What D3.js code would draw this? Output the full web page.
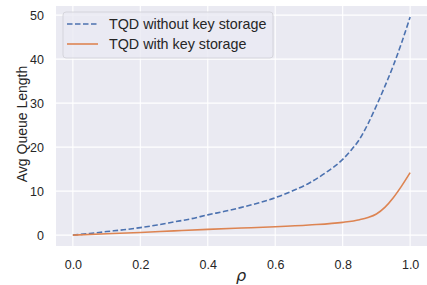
<!DOCTYPE html>
<html>
<head>
<meta charset="utf-8">
<script src="https://cdn.jsdelivr.net/npm/d3@7"></script>
<style>
	body { margin: 0; background: #fff; }
	svg text { font-family: "Liberation Sans", Arial, sans-serif; fill: #262626; }
</style>
</head>
<body>
<div id="chart"></div>
<script>
let WIDTH = 427;
let HEIGHT = 285;
let margin = {top: 6, right: 0, bottom: 39, left: 56};

let rho = [0, 0.05, 0.1, 0.15, 0.2, 0.25, 0.3, 0.35, 0.4, 0.45, 0.5,
	0.55, 0.6, 0.65, 0.7, 0.75, 0.8, 0.825, 0.85, 0.875, 0.9, 0.925, 0.95, 0.975, 1.0];
let withoutKey = [0, 0.35, 0.8, 1.2, 1.7, 2.3, 3.0, 3.7, 4.6, 5.4, 6.3,
	7.3, 8.5, 10.0, 11.8, 14.2, 17.2, 19.3, 21.8, 25.3, 29.4, 33.8, 38.5, 43.8, 49.6];

let rhoKey = [0, 0.1, 0.2, 0.3, 0.4, 0.5, 0.6, 0.7, 0.8, 0.85, 0.875,
	0.9, 0.925, 0.95, 0.975, 1.0];
let withKey = [0, 0.3, 0.6, 0.95, 1.3, 1.6, 1.9, 2.3, 2.9, 3.5, 4.0,
	4.8, 6.3, 8.5, 11.2, 14.2];

let xTicks = [0, 0.2, 0.4, 0.6, 0.8, 1.0];
let yTicks = [0, 10, 20, 30, 40, 50];
let seriesNames = ['TQD without key storage', 'TQD with key storage'];

let svg = d3.select('#chart').append('svg')
	.attr('width', WIDTH)
	.attr('height', HEIGHT);

let x = d3.scaleLinear()
	.domain([-0.05, 1.05])
	.range([margin.left, WIDTH - margin.right]);

let y = d3.scaleLinear()
	.domain([-2.48, 52.08])
	.range([HEIGHT - margin.bottom, margin.top]);

svg.append('rect')
	.attr('x', margin.left)
	.attr('y', margin.top)
	.attr('width', WIDTH - margin.left - margin.right)
	.attr('height', HEIGHT - margin.top - margin.bottom)
	.attr('fill', '#eaeaf2');

let grid = svg.append('g');
grid.selectAll('.gx').data(xTicks).enter().append('line')
	.attr('x1', d => x(d)).attr('x2', d => x(d))
	.attr('y1', margin.top).attr('y2', HEIGHT - margin.bottom)
	.attr('stroke', '#fff').attr('stroke-width', 1.1);
grid.selectAll('.gy').data(yTicks).enter().append('line')
	.attr('y1', d => y(d)).attr('y2', d => y(d))
	.attr('x1', margin.left).attr('x2', WIDTH - margin.right)
	.attr('stroke', '#fff').attr('stroke-width', 1.1);

let xAxis = svg.append('g')
	.attr('transform', `translate(0,${HEIGHT - margin.bottom})`)
	.call(d3.axisBottom(x).tickValues(xTicks).tickFormat(d3.format('.1f')).tickSize(0).tickPadding(14));
let yAxis = svg.append('g')
	.attr('transform', `translate(${margin.left},0)`)
	.call(d3.axisLeft(y).tickValues(yTicks).tickSize(0).tickPadding(12));
[xAxis, yAxis].forEach(a => {
	a.select('.domain').remove();
	a.selectAll('text').attr('font-size', 12.5).attr('fill', '#262626')
		.style('font-family', '"Liberation Sans", Arial, sans-serif');
});

let line = d3.line()
	.x(d => x(d[0]))
	.y(d => y(d[1]))
	.curve(d3.curveMonotoneX);

svg.append('path')
	.datum(rho.map((r, i) => [r, withoutKey[i]]))
	.attr('d', line)
	.attr('fill', 'none')
	.attr('stroke', '#4c72b0')
	.attr('stroke-width', 1.6)
	.attr('stroke-dasharray', '5.5,2.5');

svg.append('path')
	.datum(rhoKey.map((r, i) => [r, withKey[i]]))
	.attr('d', line)
	.attr('fill', 'none')
	.attr('stroke', '#dd8452')
	.attr('stroke-width', 1.6);

// legend
let lg = svg.append('g').attr('transform', 'translate(63,12)');
lg.append('rect')
	.attr('width', 210).attr('height', 46).attr('rx', 3)
	.attr('fill', '#eaeaf2').attr('fill-opacity', 0.8)
	.attr('stroke', '#cfcfd6').attr('stroke-width', 0.8);
let styles = [{c: '#4c72b0', dash: '5.5,2.5'}, {c: '#dd8452', dash: null}];
seriesNames.forEach((name, i) => {
	let yy = 12 + i * 20;
	lg.append('line')
		.attr('x1', 4).attr('x2', 35).attr('y1', yy).attr('y2', yy)
		.attr('stroke', styles[i].c).attr('stroke-width', 1.6)
		.attr('stroke-dasharray', styles[i].dash);
	lg.append('text')
		.attr('x', 46).attr('y', yy).attr('dy', '0.35em')
		.attr('font-size', 14.3)
		.text(name);
});

svg.append('text')
	.attr('transform', `translate(27,124) rotate(-90)`)
	.attr('text-anchor', 'middle')
	.attr('font-size', 14)
	.text('Avg Queue Length');

svg.append('text')
	.attr('x', 241)
	.attr('y', 281)
	.attr('text-anchor', 'middle')
	.attr('font-size', 16)
	.attr('font-style', 'italic')
	.style('font-family', '"DejaVu Sans", sans-serif')
	.text('ρ');
</script>
</body>
</html>
